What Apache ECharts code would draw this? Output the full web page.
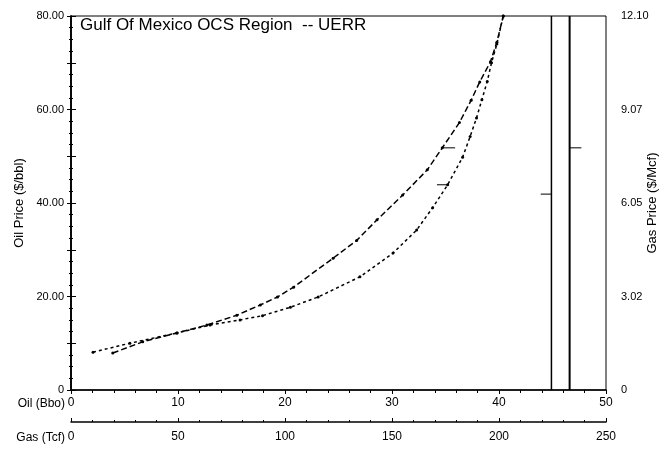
<!DOCTYPE html>
<html><head><meta charset="utf-8">
<script src="https://cdn.jsdelivr.net/npm/echarts@6/dist/echarts.min.js"></script>
<style>html,body{margin:0;padding:0;background:#fff}#c{width:669px;height:449px}</style>
</head><body><div id="c"></div>
<script>
const titleText = 'Gulf Of Mexico OCS Region  -- UERR';
const oilTicks = [0, 10, 20, 30, 40, 50];
const gasTicks = [0, 50, 100, 150, 200, 250];
const oilPriceTicks = ['0', '20.00', '40.00', '60.00', '80.00'];
const gasPriceTicks = ['0', '3.02', '6.05', '9.07', '12.10'];
// Curve A (long dashes): [oil Bbo, oil price $/bbl]
const curveA = [[3.9,7.9],[6.7,10.3],[9.9,12.2],[12.7,13.9],[15.5,16.0],[17.7,18.2],[19.3,19.9],[20.8,22.0],[24.5,28.2],[26.7,32.0],[28.6,36.4],[31.0,41.7],[33.3,47.1],[34.7,51.8],[36.3,57.2],[37.4,62.0],[38.2,65.9],[39.2,70.2],[39.8,74.4],[40.4,80.0]];
// Curve B (short dashes)
const curveB = [[2.06,8.1],[5.5,10.0],[9.9,12.2],[13.0,13.9],[15.8,15.0],[17.9,15.9],[20.5,17.7],[23.1,19.9],[27.0,24.2],[30.1,29.3],[32.3,34.2],[33.8,39.0],[35.2,43.9],[36.6,49.8],[37.3,54.2],[37.9,58.2],[38.4,62.1],[38.9,66.0],[39.3,70.0],[39.8,74.0],[40.4,80.0]];
// Vertical lines (total resources)
const vLine1 = [[44.9,0],[44.9,80]];
const vLine2 = [[46.6,0],[46.6,80]];
// Small horizontal marks
const markA = [[34.7,51.8],[35.9,51.8]];
const markB = [[34.2,43.9],[35.2,43.9]];
const mark1 = [[43.9,41.9],[44.9,41.9]];
const mark2 = [[46.6,51.8],[47.7,51.8]];

const chart = echarts.init(document.getElementById('c'), null, {renderer:'canvas'});
const font = 'Liberation Sans, Arial, sans-serif';
const blk = '#000';
const lineSeries = (data, type, width, sym) => ({
  type:'line', data, xAxisIndex:0, yAxisIndex:0, showSymbol: !!sym, symbol:'circle', symbolSize: sym||0,
  itemStyle:{color:blk}, lineStyle:{color:blk, width, type}, animation:false, silent:true
});
chart.setOption({
  animation:false,
  backgroundColor:'#fff',
  grid:{left:71, right:63, top:16, bottom:59, containLabel:false, outerBoundsMode:'none', show:true, borderColor:blk, borderWidth:1},
  graphic:[
    {type:'text', left:80, top:17, style:{text:titleText, font:'17px ' + font, fill:blk}},
    {type:'text', right:604, top:398, style:{text:'Oil (Bbo)', font:'12px ' + font, fill:blk, textAlign:'right'}},
    {type:'text', right:604, top:432, style:{text:'Gas (Tcf)', font:'12px ' + font, fill:blk, textAlign:'right'}}
  ],
  xAxis:[
    {type:'value', min:0, max:50, interval:10, position:'bottom',
     axisLine:{lineStyle:{color:blk, width:1.5}}, axisTick:{show:true, length:4, inside:false, lineStyle:{color:blk}},
     minorTick:{show:true, splitNumber:5, length:3, lineStyle:{color:blk}},
     axisLabel:{color:blk, fontFamily:font, fontSize:12, margin:7, formatter:v=>String(oilTicks[Math.round(v/10)])},
     splitLine:{show:false}},
    {type:'value', min:0, max:250, interval:50, position:'bottom', offset:32,
     axisLine:{onZero:false, lineStyle:{color:blk, width:1.5}}, axisTick:{show:true, length:4, inside:true, lineStyle:{color:blk}},
     minorTick:{show:true, splitNumber:5, length:2, lineStyle:{color:blk}},
     axisLabel:{color:blk, fontFamily:font, fontSize:12, margin:9, formatter:v=>String(gasTicks[Math.round(v/50)])},
     splitLine:{show:false}}
  ],
  yAxis:[
    {type:'value', min:0, max:80, interval:10, position:'left',
     name:'Oil Price ($/bbl)', nameLocation:'middle', nameGap:45, nameRotate:90, nameMoveOverlap:false,
     nameTextStyle:{color:blk, fontFamily:font, fontSize:13},
     axisLine:{show:true, lineStyle:{color:blk, width:1.5}}, axisTick:{show:true, length:4, lineStyle:{color:blk}},
     minorTick:{show:true, splitNumber:4, length:2, lineStyle:{color:blk}},
     axisLabel:{color:blk, fontFamily:font, fontSize:11, margin:7, formatter:v=> (Math.round(v)%20===0 ? oilPriceTicks[Math.round(v/20)] : '')},
     splitLine:{show:false}},
    {type:'value', min:0, max:12.1, interval:1.5125, position:'right',
     name:'Gas Price ($/Mcf)', nameLocation:'middle', nameGap:40, nameRotate:90, nameMoveOverlap:false,
     nameTextStyle:{color:blk, fontFamily:font, fontSize:13},
     axisLine:{show:true, lineStyle:{color:blk, width:1.5}}, axisTick:{show:true, length:5, lineStyle:{color:blk}},
     minorTick:{show:true, splitNumber:4, length:2, lineStyle:{color:blk}},
     axisLabel:{color:blk, fontFamily:font, fontSize:11, margin:15, formatter:v=>{const k=Math.round(v/1.5125); return k%2===0 ? gasPriceTicks[k/2] : '';}},
     splitLine:{show:false}}
  ],
  series:[
    lineSeries(curveA, [6,3], 1.5, 3),
    lineSeries(curveB, [3,3], 1.5, 3),
    lineSeries(vLine1, 'solid', 1.5, 0),
    lineSeries(vLine2, 'solid', 2, 0),
    lineSeries(markA, 'solid', 1, 0),
    lineSeries(markB, 'solid', 1, 0),
    lineSeries(mark1, 'solid', 1, 0),
    lineSeries(mark2, 'solid', 1, 0)
  ]
});
</script></body></html>
